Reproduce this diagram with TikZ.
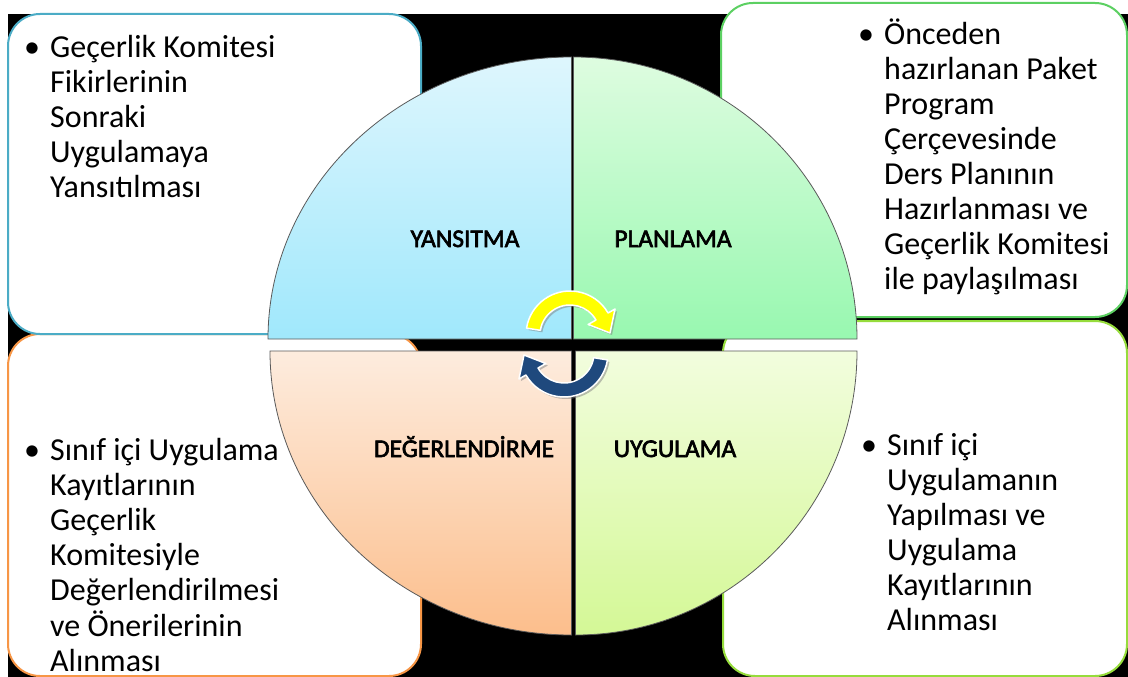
\documentclass[tikz,border=0pt]{standalone}
\usepackage{fontspec}
\setmainfont{Carlito}
\newfontfamily\labelfont{Carlito}[FakeBold=2.5]
\usetikzlibrary{calc,shadows}
\definecolor{tlborder}{RGB}{75,172,198}
\definecolor{trborder}{RGB}{92,208,98}
\definecolor{blborder}{RGB}{247,150,70}
\definecolor{brborder}{RGB}{150,220,60}
\definecolor{tltop}{RGB}{222,246,253}
\definecolor{tlbot}{RGB}{160,232,252}
\definecolor{trtop}{RGB}{222,252,224}
\definecolor{trbot}{RGB}{152,248,176}
\definecolor{bltop}{RGB}{253,236,222}
\definecolor{blbot}{RGB}{252,190,140}
\definecolor{brtop}{RGB}{242,253,222}
\definecolor{brbot}{RGB}{212,248,150}
\definecolor{arrowblue}{RGB}{31,73,125}
\definecolor{arrowyellow}{RGB}{255,255,0}
\definecolor{quadline}{RGB}{90,90,90}
\begin{document}
\begin{tikzpicture}[x=1pt,y=-1pt,
  infobox/.style={draw, line width=2pt, fill=white, rounded corners=32pt, inner sep=0pt},
  bodytext/.style={anchor=base west, inner sep=0pt, font=\fontsize{32}{35}\selectfont},
  quadlabel/.style={anchor=base, inner sep=0pt, font=\labelfont\fontsize{25.5}{30}\selectfont},
  quad/.style={draw=quadline, line width=0.8pt},
  cyclearrow/.style={draw=white, line width=1.5pt, line join=round}]
\useasboundingbox (0,0) rectangle (1128,677);
\fill[white] (0,0) rectangle (1128,677);
\fill[black] (8,14) rectangle (1128,677);

% corner boxes
\node[infobox, draw=blborder, minimum width=413pt, minimum height=342pt] (blbox) at (214.5,505) {};
\node[infobox, draw=tlborder, minimum width=413pt, minimum height=320pt] (tlbox) at (214.5,174) {};
\node[infobox, draw=brborder, minimum width=404pt, minimum height=355pt] (brbox) at (925,498.5) {};
\node[infobox, draw=trborder, minimum width=406pt, minimum height=314pt] (trbox) at (924,160) {};

% box texts
\node[bodytext] (tltext) at (24,58) {\begin{tabular}[t]{@{}l@{}l@{}}
\makebox[26pt][l]{•} & Geçerlik Komitesi\\
 & Fikirlerinin\\
 & Sonraki\\
 & Uygulamaya\\
 & Yansıtılması
\end{tabular}};
\node[bodytext] (trtext) at (858,45) {\begin{tabular}[t]{@{}l@{}l@{}}
\makebox[26pt][l]{•} & Önceden\\
 & hazırlanan Paket\\
 & Program\\
 & Çerçevesinde\\
 & Ders Planının\\
 & Hazırlanması ve\\
 & Geçerlik Komitesi\\
 & ile paylaşılması
\end{tabular}};
\node[bodytext] (bltext) at (24,460) {\begin{tabular}[t]{@{}l@{}l@{}}
\makebox[26pt][l]{•} & Sınıf içi Uygulama\\
 & Kayıtlarının\\
 & Geçerlik\\
 & Komitesiyle\\
 & Değerlendirilmesi\\
 & ve Önerilerinin\\
 & Alınması
\end{tabular}};
\node[bodytext] (brtext) at (861,455) {\begin{tabular}[t]{@{}l@{}l@{}}
\makebox[26pt][l]{•} & Sınıf içi\\
 & Uygulamanın\\
 & Yapılması ve\\
 & Uygulama\\
 & Kayıtlarının\\
 & Alınması
\end{tabular}};

% quadrants
\path[quad, top color=tltop, bottom color=tlbot]
  (571.5,339) -- (268,339) arc[start angle=180, end angle=270, x radius=303.5, y radius=282] -- cycle;
\path[quad, top color=trtop, bottom color=trbot]
  (573.5,339) -- (857,339) arc[start angle=360, end angle=270, x radius=283.5, y radius=282] -- cycle;
\path[quad, top color=bltop, bottom color=blbot]
  (571.5,351) -- (270,351) arc[start angle=180, end angle=90, x radius=301.5, y radius=284] -- cycle;
\path[quad, top color=brtop, bottom color=brbot]
  (575.5,351) -- (857,351) arc[start angle=0, end angle=90, x radius=281.5, y radius=284] -- cycle;

% quadrant labels
\node[quadlabel] (yansitma) at (465,247) {YANSITMA};
\node[quadlabel] (planlama) at (673,247) {PLANLAMA};
\node[quadlabel] (degerlendirme) at (464,457) {DEĞERLENDİRME};
\node[quadlabel] (uygulama) at (675,457) {UYGULAMA};

% cycle arrows
\coordinate (yc) at (570,335);
\path[cyclearrow, fill=arrowyellow, drop shadow={opacity=0.5, shadow xshift=2pt, shadow yshift=-2pt}]
  ($(yc)+(189:44)$) arc[start angle=189, end angle=330, radius=44]
  -- ($(yc)+(330:52)$) -- (610,333) -- ($(yc)+(330:21)$) -- ($(yc)+(330:30)$)
  arc[start angle=330, end angle=189, radius=30] -- cycle;
\coordinate (bc) at (564,353);
\path[cyclearrow, fill=arrowblue, drop shadow={opacity=0.5, shadow xshift=2pt, shadow yshift=-2pt}]
  ($(bc)+(9:44)$) arc[start angle=9, end angle=150, radius=44]
  -- ($(bc)+(150:52)$) -- (524,355) -- ($(bc)+(150:21)$) -- ($(bc)+(150:30)$)
  arc[start angle=150, end angle=9, radius=30] -- cycle;
\end{tikzpicture}
\end{document}
